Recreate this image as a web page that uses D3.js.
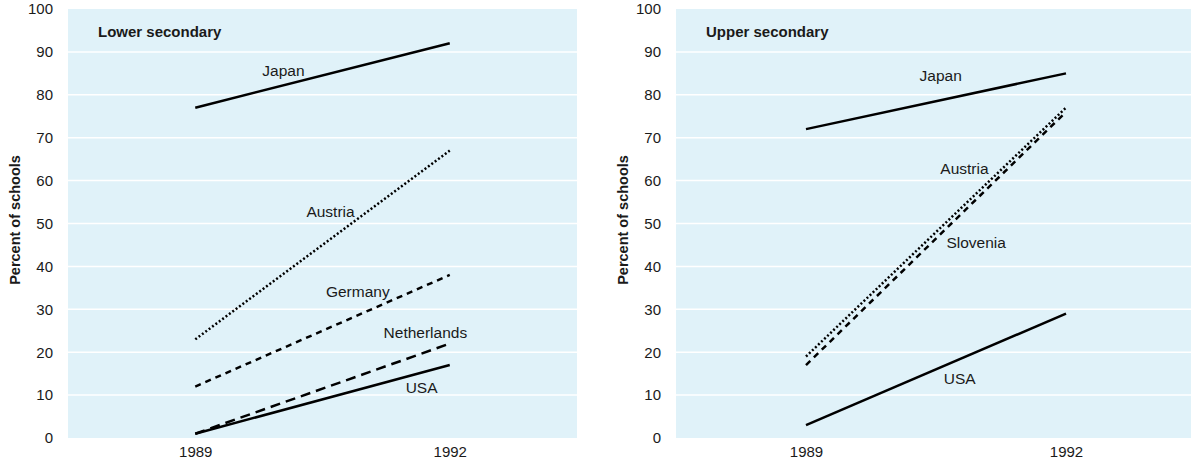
<!DOCTYPE html>
<html>
<head>
<meta charset="utf-8">
<script src="https://cdn.jsdelivr.net/npm/d3@7"></script>
<style>
  body { margin: 0; background: #fff; }
  svg text { font-family: "Liberation Sans", Arial, sans-serif; fill: #1a1a1a; }
</style>
</head>
<body>
<div id="chart"></div>
<script>
// years on the x axis
const years = [1989, 1992];
const yTicks = [0, 10, 20, 30, 40, 50, 60, 70, 80, 90, 100];

const lowerCountries = ["Japan", "Austria", "Germany", "Netherlands", "USA"];
const lowerValues = [[77, 92], [23, 67], [12, 38], [1, 22], [1, 17]];
const lowerStyles = ["solid", "dotted", "dash", "longdash", "solid"];
const lowerLabelAt = [[1989.79, 84.4], [1990.31, 51.7], [1990.54, 32.9], [1991.22, 23.5], [1991.48, 10.7]];

const upperCountries = ["Japan", "Austria", "Slovenia", "USA"];
const upperValues = [[72, 85], [19, 77], [17, 76], [3, 29]];
const upperStyles = ["solid", "dotted", "dash", "solid"];
const upperLabelAt = [[1990.31, 83.4], [1990.55, 61.7], [1990.62, 44.3], [1990.59, 12.6]];

const dashes = { solid: null, dotted: "2,2.2", dash: "6,5", longdash: "10,6" };

const svg = d3.select("#chart").append("svg")
  .attr("width", 1191)
  .attr("height", 465);

function panel(opts) {
  const g = svg.append("g");
  const x = d3.scaleLinear().domain([1987.5, 1993.5]).range([opts.left, opts.right]);
  const y = d3.scaleLinear().domain([0, 100]).range([438, 9]);

  g.append("rect")
    .attr("x", opts.left).attr("y", y(100))
    .attr("width", opts.right - opts.left).attr("height", y(0) - y(100))
    .attr("fill", "#e0f2f9");

  // white gridlines
  g.selectAll(".grid").data(yTicks.slice(1, -1)).enter().append("line")
    .attr("x1", opts.left).attr("x2", opts.right)
    .attr("y1", d => y(d)).attr("y2", d => y(d))
    .attr("stroke", "#fff").attr("stroke-width", 1.5);

  const yAxis = g.append("g")
    .attr("transform", `translate(${opts.left},0)`)
    .call(d3.axisLeft(y).tickValues(yTicks).tickSize(0).tickPadding(15));
  yAxis.select(".domain").remove();
  yAxis.selectAll("text").style("font-size", "15px").attr("font-family", null);

  const xAxis = g.append("g")
    .attr("transform", `translate(0,${y(0)})`)
    .call(d3.axisBottom(x).tickValues(years).tickFormat(d3.format("d")).tickSize(0).tickPadding(8));
  xAxis.select(".domain").remove();
  xAxis.selectAll("text").style("font-size", "15px").attr("font-family", null);

  g.append("text")
    .attr("transform", `translate(${opts.titleX},220) rotate(-90)`)
    .attr("text-anchor", "middle")
    .style("font-size", "14.5px").style("font-weight", "bold")
    .text("Percent of schools");

  g.append("text")
    .attr("x", opts.left + 30).attr("y", 37)
    .style("font-size", "15px").style("font-weight", "bold")
    .text(opts.title);

  const line = d3.line().x((d, i) => x(years[i])).y(d => y(d));
  opts.values.forEach((v, i) => {
    g.append("path")
      .attr("d", line(v))
      .attr("fill", "none")
      .attr("stroke", "#000")
      .attr("stroke-width", 2.5)
      .attr("stroke-dasharray", dashes[opts.styles[i]]);
    g.append("text")
      .attr("x", x(opts.labelAt[i][0]))
      .attr("y", y(opts.labelAt[i][1]) + 0.5)
      .style("font-size", "15.5px")
      .text(opts.countries[i]);
  });
}

panel({ left: 68, right: 577, titleX: 20, title: "Lower secondary",
  countries: lowerCountries, values: lowerValues, styles: lowerStyles, labelAt: lowerLabelAt });
panel({ left: 676, right: 1196, titleX: 628, title: "Upper secondary",
  countries: upperCountries, values: upperValues, styles: upperStyles, labelAt: upperLabelAt });
</script>
</body>
</html>
